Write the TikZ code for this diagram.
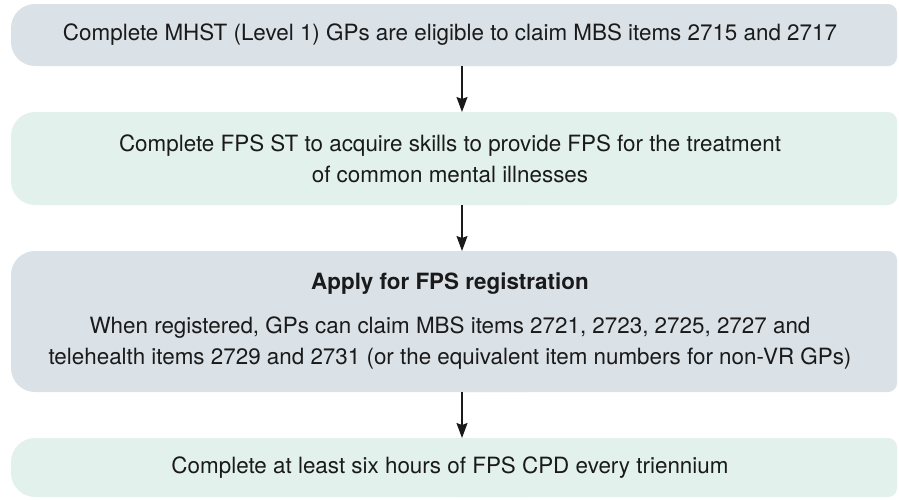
\documentclass[tikz,border=0pt]{standalone}
\usepackage{fontspec}
\setmainfont{TeX Gyre Heros}
\usetikzlibrary{arrows.meta,positioning,backgrounds}
\definecolor{greyblue}{HTML}{DAE1E7}
\definecolor{mint}{HTML}{E2F1EB}
\definecolor{ink}{HTML}{1A1A1A}

% fill behind a panel: big round corners left, small ones right
\newcommand\panelfill[2]{%
  \fill[#2,rounded corners=24pt] ([xshift=4pt]#1.south west) rectangle ([xshift=100pt]#1.north);
  \fill[#2,rounded corners=9pt] (#1.south) rectangle ([xshift=4pt]#1.north east);}

\begin{document}
\begin{tikzpicture}[x=1pt,y=1pt,node distance=46pt,
  panel/.style={minimum width=886pt,inner sep=0pt,outer sep=0pt,align=center,
    text=ink,font=\fontsize{22.4}{31}\selectfont},
  flow/.style={-{Stealth[length=15pt,width=11pt,inset=2pt]},line width=1.3pt,ink}]
  \useasboundingbox (0,0) rectangle (899,-499);

  \node [panel,minimum height=62pt] (mhst) at (450,-35)
    {Complete MHST (Level 1) GPs are eligible to claim MBS items 2715 and 2717};
  \node [panel,minimum height=93pt] (fpsst) [below=of mhst]
    {Complete FPS ST to acquire skills to provide FPS for the treatment\\
     of common mental illnesses};
  \node [panel,minimum height=141pt] (register) [below=of fpsst]
    {\textbf{Apply for FPS registration}\\[13pt]
     When registered, GPs can claim MBS items 2721, 2723, 2725, 2727 and\\
     telehealth items 2729 and 2731 (or the equivalent item numbers for non-VR GPs)};
  \node [panel,minimum height=59pt] (cpd) [below=of register]
    {Complete at least six hours of FPS CPD every triennium};

  \begin{scope}[on background layer]
    \panelfill{mhst}{greyblue}
    \panelfill{fpsst}{mint}
    \panelfill{register}{greyblue}
    \panelfill{cpd}{mint}
  \end{scope}

  \draw [flow] ([xshift=12pt]mhst.south) -- ([xshift=12pt]fpsst.north);
  \draw [flow] ([xshift=12pt]fpsst.south) -- ([xshift=12pt]register.north);
  \draw [flow] ([xshift=12pt]register.south) -- ([xshift=12pt]cpd.north);
\end{tikzpicture}
\end{document}
